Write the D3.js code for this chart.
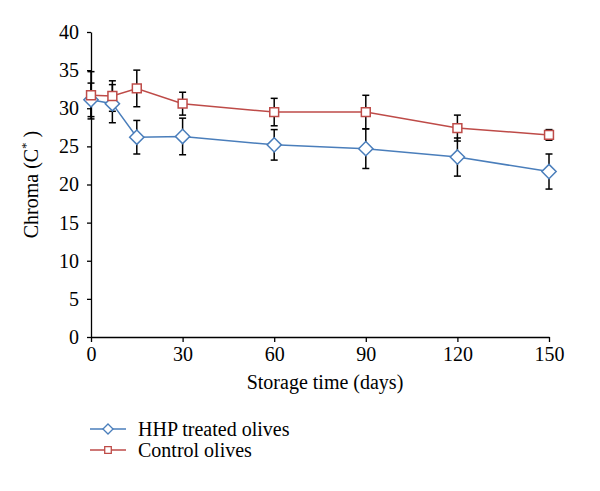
<!DOCTYPE html>
<head>
  <meta charset="utf-8">
  <script src="https://cdnjs.cloudflare.com/ajax/libs/d3/7.8.5/d3.min.js"></script>
</head>
<style>
  body { margin: 0; background: #fff; }
  text { font-family: "Liberation Serif", "Times New Roman", serif; fill: #000; }
  .axis path, .axis line { stroke: #000; stroke-width: 1.3; }
  .axis text { font-size: 20px; }
</style>
<body>
  <svg width="600" height="491" class="chart"></svg>
  <script>
  // storage days and chroma values (C*)
  let days = [0, 7, 15, 30, 60, 90, 120, 150];
  let hhp = [31.1, 30.6, 26.2, 26.3, 25.2, 24.7, 23.6, 21.7];
  let hhpErr = [2.2, 2.5, 2.2, 2.4, 2.0, 2.6, 2.5, 2.3];
  let control = [31.7, 31.6, 32.6, 30.6, 29.5, 29.5, 27.4, 26.5];
  let controlErr = [3.1, 2.0, 2.4, 1.5, 1.8, 2.2, 1.7, 0.7];
  let xTicks = [0, 30, 60, 90, 120, 150];
  let yTicks = [0, 5, 10, 15, 20, 25, 30, 35, 40];
  let seriesNames = ["HHP treated olives", "Control olives"];

  let svg = d3.select(".chart");
  let margin = {top: 32, left: 91, right: 51, bottom: 154};
  let width = +svg.attr("width") - margin.left - margin.right,
      height = +svg.attr("height") - margin.top - margin.bottom;

  let x = d3.scaleLinear().domain([0, 150]).range([0, width]);
  let y = d3.scaleLinear().domain([0, 40]).range([height, 0]);

  let g = svg.append("g")
      .attr("transform", "translate(" + margin.left + "," + margin.top + ")");

  g.append("g")
      .attr("class", "axis")
      .attr("transform", "translate(0," + height + ")")
      .call(d3.axisBottom(x).tickValues(xTicks).tickSize(5).tickSizeOuter(0).tickPadding(5));

  g.append("g")
      .attr("class", "axis")
      .call(d3.axisLeft(y).tickValues(yTicks).tickSize(4).tickSizeOuter(0).tickPadding(8));

  g.selectAll(".axis text").style("font-family", "'Liberation Serif', serif");

  // axis titles
  g.append("text")
      .attr("x", width / 2 + 5)
      .attr("y", height + 52)
      .attr("text-anchor", "middle")
      .style("font-size", "20px")
      .text("Storage time (days)");

  let yt = g.append("text")
      .attr("transform", "translate(-53," + (height / 2) + ") rotate(-90)")
      .attr("text-anchor", "middle")
      .style("font-size", "20px");
  yt.append("tspan").text("Chroma (C");
  yt.append("tspan").attr("dy", -8).style("font-size", "13px").text("*");
  yt.append("tspan").attr("dy", 8).text(" )");

  let series = [
    {name: seriesNames[0], vals: hhp, err: hhpErr, color: "#4a7ebb", shape: d3.symbolDiamond2},
    {name: seriesNames[1], vals: control, err: controlErr, color: "#be4b48", shape: d3.symbolSquare2}
  ];

  let line = d3.line()
      .x(function(d) { return x(d.day); })
      .y(function(d) { return y(d.v); });

  series.forEach(function(s) {
    s.pts = days.map(function(d, i) { return {day: d, v: s.vals[i], e: s.err[i]}; });
    g.append("path")
        .datum(s.pts)
        .attr("fill", "none")
        .attr("stroke", s.color)
        .attr("stroke-width", 1.5)
        .attr("d", line);
  });

  // error bars
  series.forEach(function(s) {
    let eb = g.append("g").attr("stroke", "#000").attr("stroke-width", 1.5);
    s.pts.forEach(function(p) {
      eb.append("line")
          .attr("x1", x(p.day)).attr("x2", x(p.day))
          .attr("y1", y(p.v + p.e)).attr("y2", y(p.v - p.e));
      [p.v + p.e, p.v - p.e].forEach(function(v) {
        eb.append("line")
            .attr("x1", x(p.day) - 3.5).attr("x2", x(p.day) + 3.5)
            .attr("y1", y(v)).attr("y2", y(v));
      });
    });
  });

  // markers
  series.forEach(function(s) {
    g.selectAll(null)
      .data(s.pts)
      .enter().append("path")
        .attr("transform", function(d) { return "translate(" + x(d.day) + "," + y(d.v) + ")"; })
        .attr("d", d3.symbol().type(s.shape).size(s.shape === d3.symbolSquare2 ? 100 : 130))
        .attr("fill", "#fff")
        .attr("stroke", s.color)
        .attr("stroke-width", 1.5);
  });

  // legend
  let leg = svg.append("g").attr("transform", "translate(90,429)");
  series.forEach(function(s, i) {
    let row = leg.append("g").attr("transform", "translate(0," + (i * 21) + ")");
    row.append("line").attr("x1", 0).attr("x2", 36).attr("y1", 0).attr("y2", 0)
        .attr("stroke", s.color).attr("stroke-width", 1.5);
    row.append("path")
        .attr("transform", "translate(18,0)")
        .attr("d", d3.symbol().type(s.shape).size(s.shape === d3.symbolSquare2 ? 55 : 65))
        .attr("fill", "#fff").attr("stroke", s.color).attr("stroke-width", 1.3);
    row.append("text").attr("x", 48).attr("y", 7).style("font-size", "20px").text(s.name);
  });
  </script>
</body>
</html>
